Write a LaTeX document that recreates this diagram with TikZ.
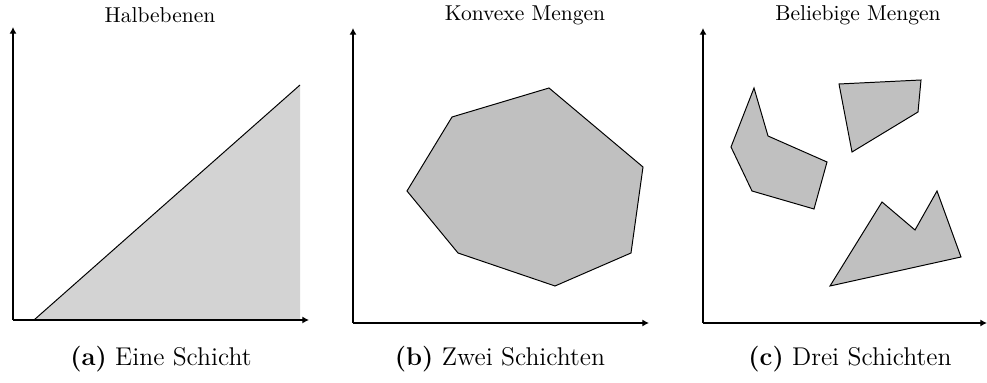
\documentclass[tikz,border=0pt]{standalone}
\usetikzlibrary{arrows.meta}
\definecolor{lightfill}{RGB}{211,211,211}
\definecolor{polyfill}{RGB}{192,192,192}
\begin{document}
\begin{tikzpicture}[x=0.46pt,y=-0.46pt,
  axis/.style={line width=0.95pt,-{Latex[length=3.1pt,width=3.3pt]}},
  poly/.style={draw=black,fill=polyfill,line width=0.45pt,line join=miter},
  ttl/.style={font=\fontsize{9.9}{12}\selectfont,inner sep=0pt},
  captext/.style={font=\fontsize{11.8}{14}\selectfont,inner sep=0pt}]
\useasboundingbox (0,0) rectangle (987,383);
% panel a
\fill[lightfill] (34,320) -- (300,85) -- (300,320) -- cycle;
\draw[line width=0.45pt] (34,320) -- (300,85);
\coordinate (oa) at (13,320);
\draw[axis] (oa) -- (13,27);
\draw[axis] (oa) -- (309,320);
\node[ttl] (ta) at (160,15) {Halbebenen};
\node[captext] (ca) at (161,359) {\textbf{(a)} Eine Schicht};
% panel b
\draw[poly] (452,117) -- (549,88) -- (643,167) -- (631,253) -- (555,286) -- (458,253) -- (407,191) -- cycle;
\coordinate (ob) at (353,323);
\draw[axis] (ob) -- (353,28);
\draw[axis] (ob) -- (649,323);
\node[ttl] (tb) at (525,15) {Konvexe Mengen};
\node[captext] (cb) at (500,359) {\textbf{(b)} Zwei Schichten};
% panel c
\draw[poly] (754,88) -- (768,136) -- (827,162) -- (814,209) -- (752,191) -- (731,147) -- cycle;
\draw[poly] (839,84) -- (921,80) -- (918,112) -- (852,152) -- cycle;
\draw[poly] (830,286) -- (882,202) -- (915,230) -- (937,191) -- (961,257) -- cycle;
\coordinate (oc) at (703,323);
\draw[axis] (oc) -- (703,28);
\draw[axis] (oc) -- (987,323);
\node[ttl] (tc) at (858,15) {Beliebige Mengen};
\node[captext] (cc) at (850,359) {\textbf{(c)} Drei Schichten};
\end{tikzpicture}
\end{document}
